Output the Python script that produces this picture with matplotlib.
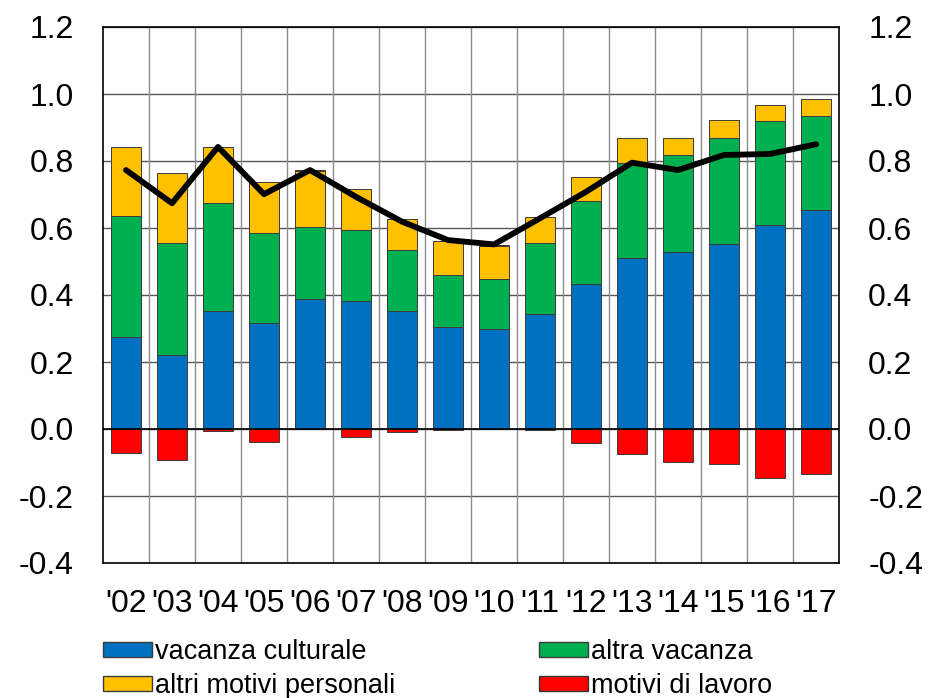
import numpy as np
import matplotlib.pyplot as plt
import matplotlib.patches as mpatches

plt.rcParams["font.family"] = ["Liberation Sans", "DejaVu Sans"]

# ─── Dati (in percentuale del PIL) ───────────────────────────────────────────
anni = ["'02", "'03", "'04", "'05", "'06", "'07", "'08", "'09",
        "'10", "'11", "'12", "'13", "'14", "'15", "'16", "'17"]

vacanza_culturale = [0.274, 0.221, 0.353, 0.316, 0.387, 0.381, 0.353, 0.304,
                     0.298, 0.342, 0.432, 0.510, 0.527, 0.551, 0.609, 0.654]
altra_vacanza     = [0.363, 0.333, 0.321, 0.268, 0.217, 0.213, 0.181, 0.155,
                     0.149, 0.212, 0.249, 0.285, 0.291, 0.318, 0.309, 0.280]
altri_motivi      = [0.206, 0.211, 0.167, 0.154, 0.167, 0.121, 0.094, 0.102,
                     0.100, 0.078, 0.072, 0.073, 0.050, 0.052, 0.048, 0.050]
motivi_lavoro     = [-0.072, -0.093, -0.005, -0.040, 0.003, -0.025, -0.008, -0.002,
                     0.003, -0.003, -0.043, -0.075, -0.098, -0.104, -0.147, -0.135]
totale            = [0.773, 0.674, 0.842, 0.701, 0.773, 0.693, 0.619, 0.564,
                     0.551, 0.629, 0.708, 0.795, 0.773, 0.818, 0.821, 0.850]

BLU, VERDE, GIALLO, ROSSO = "#0070C0", "#00B050", "#FFC000", "#FF0000"
EDGE = "#3A3A3A"

# ─── Disegno ──────────────────────────────────────────────────────────────────
fig = plt.figure(figsize=(9.32, 6.98), dpi=100)
ax = fig.add_axes([103 / 932, 1 - 563 / 698, 736 / 932, 536 / 698])

x = np.arange(len(anni))
w = 0.67

vc = np.array(vacanza_culturale)
av = np.array(altra_vacanza)
am = np.array(altri_motivi)
ml = np.array(motivi_lavoro)

ax.bar(x, vc, w, color=BLU, edgecolor=EDGE, linewidth=0.7, zorder=3)
ax.bar(x, av, w, bottom=vc, color=VERDE, edgecolor=EDGE, linewidth=0.7, zorder=3)
ax.bar(x, am, w, bottom=vc + av, color=GIALLO, edgecolor=EDGE, linewidth=0.7, zorder=3)
# lavoro: negativi sotto lo zero, positivi in cima alla pila
bot_lav = np.where(ml > 0, vc + av + am, 0)
ax.bar(x, ml, w, bottom=bot_lav, color=ROSSO, edgecolor=EDGE, linewidth=0.7, zorder=3)

ax.plot(x, totale, color="black", linewidth=4.2, zorder=5, solid_capstyle="round")

# Griglia
for yv in np.arange(-0.4, 1.21, 0.2):
    ax.axhline(yv, color="#595959", linewidth=1.0, zorder=1)
for xv in np.arange(0.5, len(anni) - 1, 1.0):
    ax.axvline(xv, color="#8C8C8C", linewidth=1.0, zorder=1)
ax.axhline(0, color="black", linewidth=1.2, zorder=4)

ax.set_xlim(-0.5, len(anni) - 0.5)
ax.set_ylim(-0.4, 1.2)
yt = np.round(np.arange(-0.4, 1.21, 0.2), 1)
ax.set_yticks(yt)
ax.set_yticklabels([f"{v:.1f}" for v in yt])
ax.set_xticks(x)
ax.set_xticklabels(anni)
ax.tick_params(axis="y", length=0, labelsize=23, pad=21)
ax.tick_params(axis="x", length=0, labelsize=23, pad=19)
for s in ax.spines.values():
    s.set_edgecolor("black")
    s.set_linewidth(1.2)

ax2 = ax.twinx()
ax2.set_ylim(-0.4, 1.2)
ax2.set_yticks(yt)
ax2.set_yticklabels([f"{v:.1f}" for v in yt])
ax2.tick_params(axis="y", length=0, labelsize=23, pad=21)
for s in ax2.spines.values():
    s.set_visible(False)

# Titolo (tagliato in alto nell'originale)
fig.text(0.5, 1.011, "(in percentuale del PIL)", ha="center", va="baseline",
         fontsize=28.5, fontweight="bold")

# Legenda
handles = [
    mpatches.Patch(facecolor=BLU, edgecolor=EDGE, label="vacanza culturale"),
    mpatches.Patch(facecolor=GIALLO, edgecolor=EDGE, label="altri motivi personali"),
    mpatches.Patch(facecolor=VERDE, edgecolor=EDGE, label="altra vacanza"),
    mpatches.Patch(facecolor=ROSSO, edgecolor=EDGE, label="motivi di lavoro"),
]
fig.legend(handles=handles, ncol=2, loc="upper left",
           bbox_to_anchor=(103 / 932, 1 - 639 / 698), frameon=False,
           fontsize=19.5, handlelength=1.8, handleheight=0.5,
           handletextpad=0.12, labelspacing=0.3, columnspacing=5.3,
           borderaxespad=0, borderpad=0)

fig.savefig("out.png", dpi=100, facecolor="white")
